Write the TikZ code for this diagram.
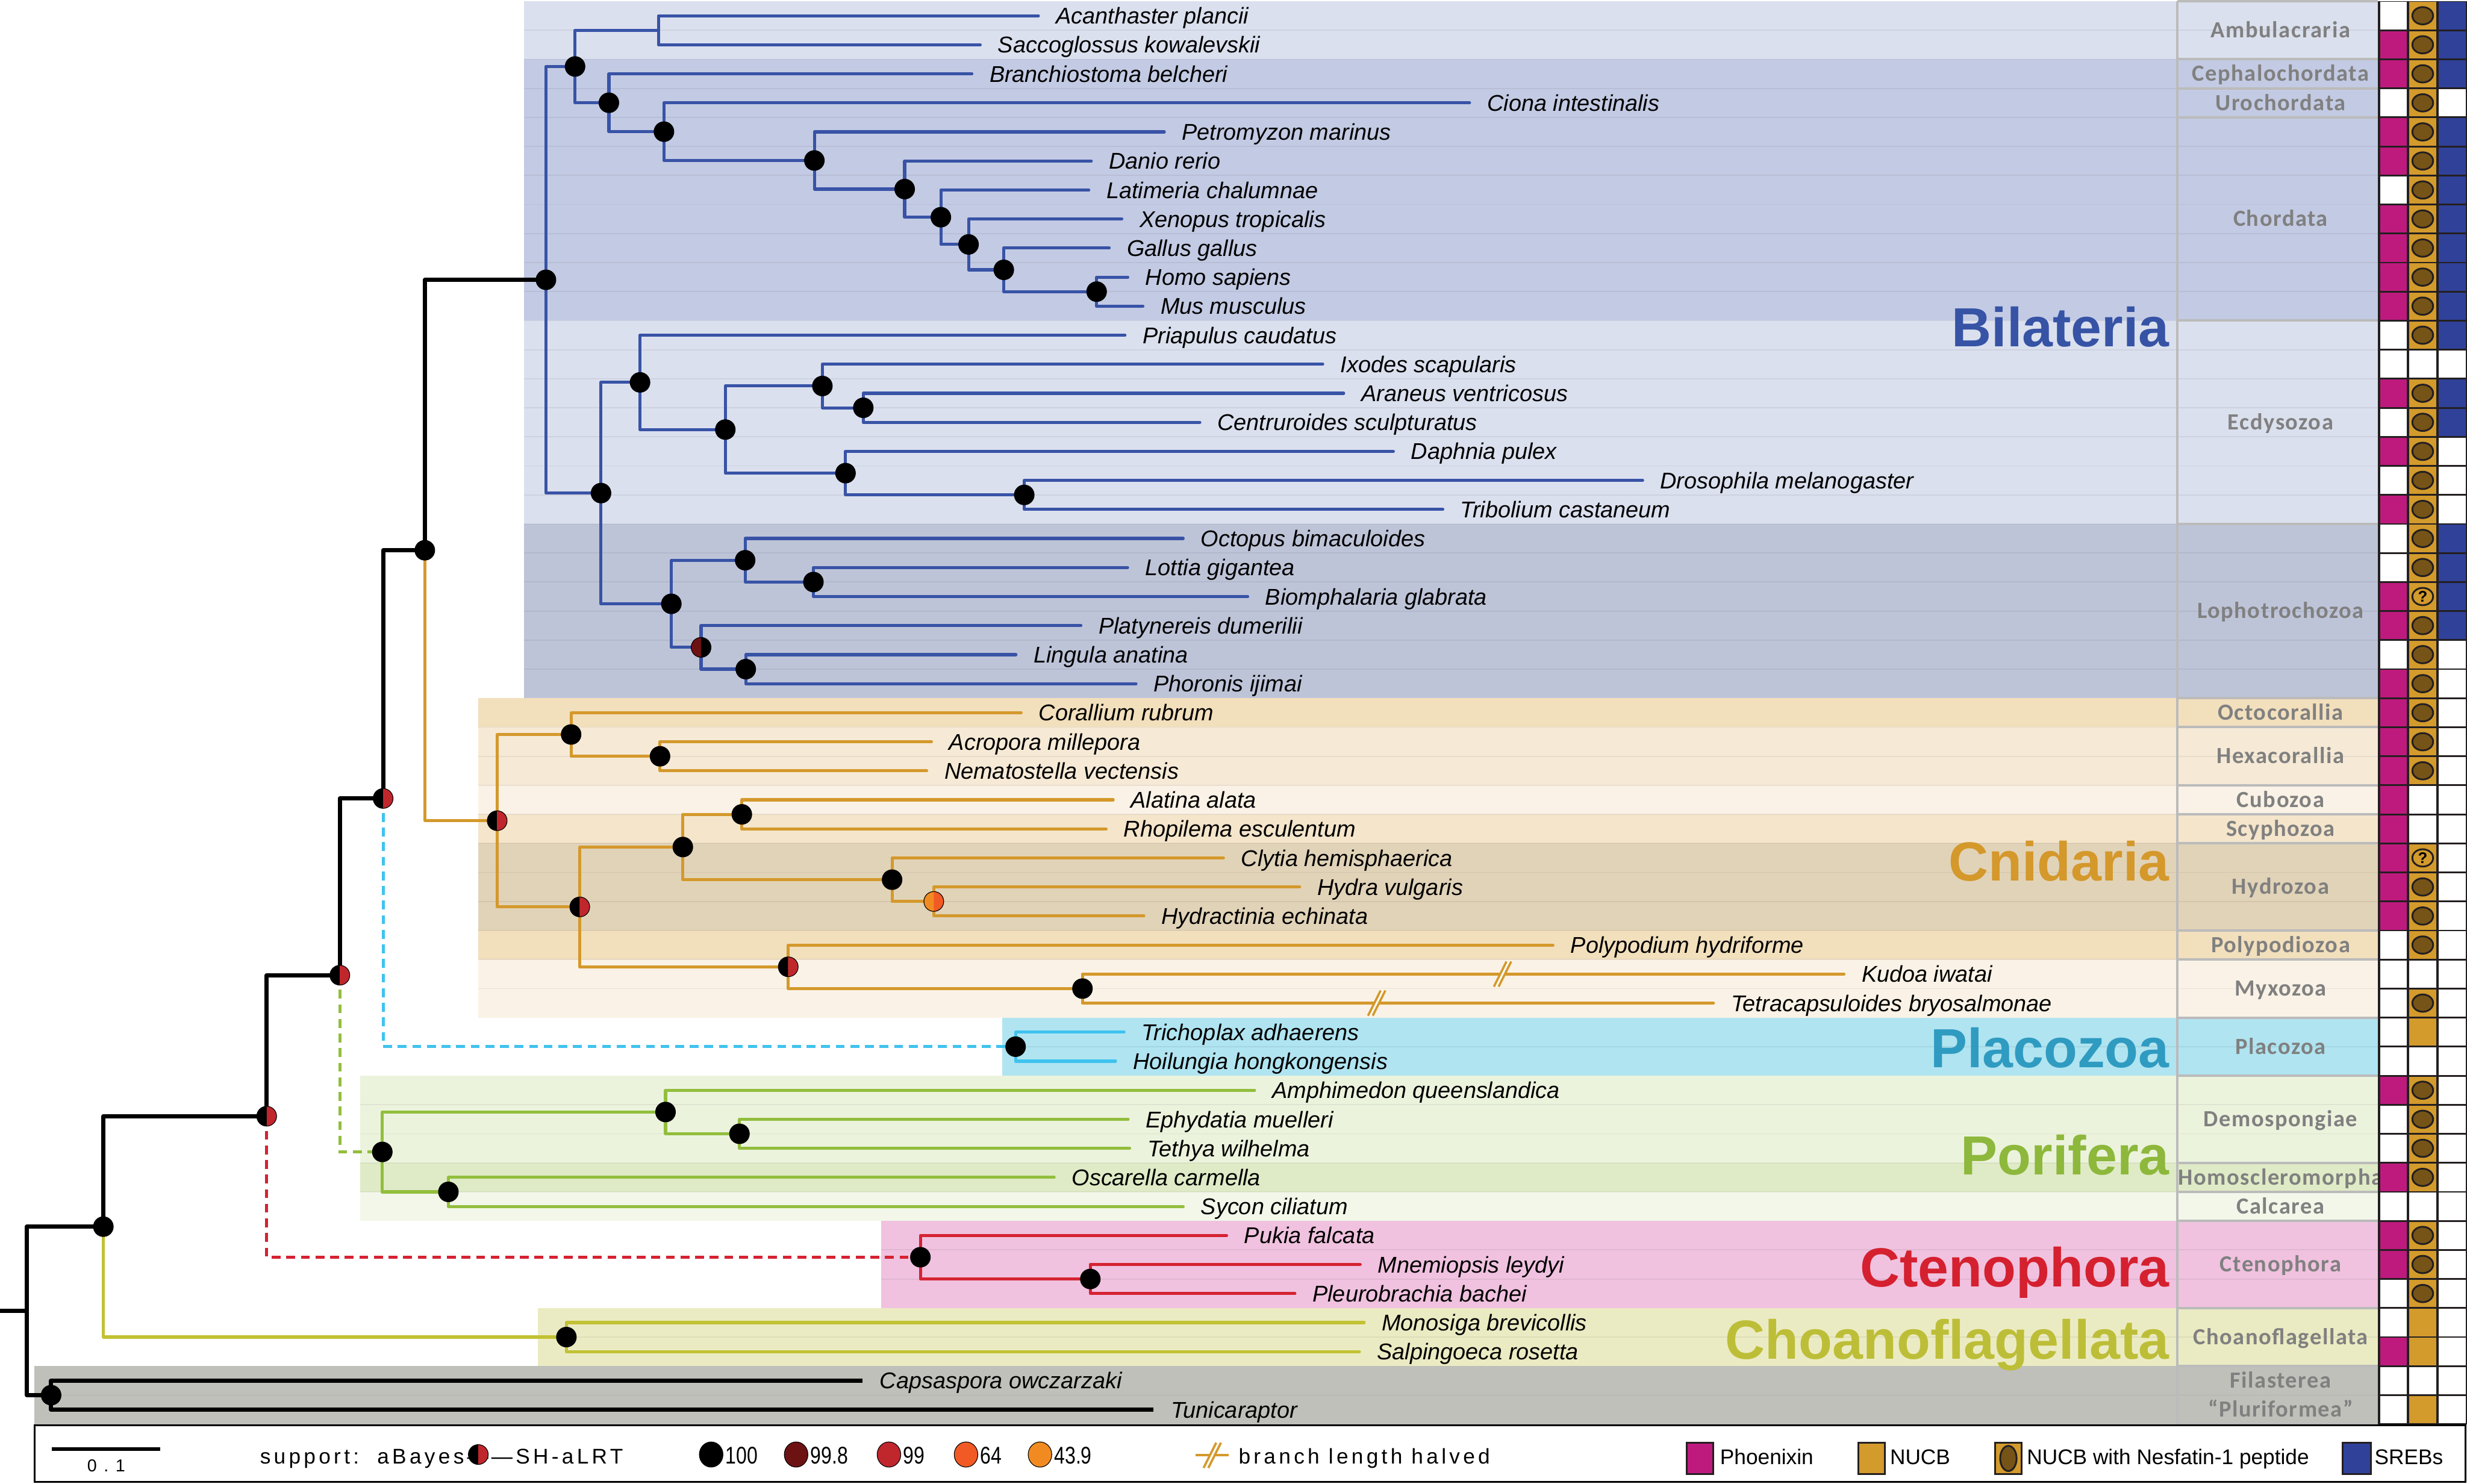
\documentclass[tikz,border=0pt]{standalone}
\usepackage{fontspec}
\usepackage{graphicx}
\setmainfont{Liberation Sans}
\newfontfamily\regionfont[LetterSpace=4]{Carlito}
\newfontfamily\legspfont[LetterSpace=15]{Liberation Sans}
\newfontfamily\legwidefont[LetterSpace=40]{Liberation Sans}
\usetikzlibrary{calc}

\definecolor{cBil}{HTML}{3853A6}
\definecolor{cCni}{HTML}{D4992C}
\definecolor{cPla}{HTML}{3FC3EF}
\definecolor{cPor}{HTML}{92BE3D}
\definecolor{cCte}{HTML}{D62232}
\definecolor{cCho}{HTML}{C2C234}
\definecolor{lBil}{HTML}{3653A5}
\definecolor{lCni}{HTML}{D4982B}
\definecolor{lPla}{HTML}{2F9BC1}
\definecolor{lPor}{HTML}{8DB83B}
\definecolor{lCte}{HTML}{D5202F}
\definecolor{lCho}{HTML}{BDBE37}
\definecolor{bAmb}{HTML}{DBE0EE}
\definecolor{bChd}{HTML}{C3CAE3}
\definecolor{bLop}{HTML}{BEC4D8}
\definecolor{bOct}{HTML}{F2DFBC}
\definecolor{bHex}{HTML}{F6EAD6}
\definecolor{bCub}{HTML}{FAF2E6}
\definecolor{bScy}{HTML}{F4E5CB}
\definecolor{bHyd}{HTML}{E1D3B8}
\definecolor{bPla}{HTML}{B0E4F1}
\definecolor{bDem}{HTML}{ECF3DD}
\definecolor{bHom}{HTML}{DFEBC6}
\definecolor{bCal}{HTML}{F3F7E9}
\definecolor{bCte}{HTML}{F0C2DF}
\definecolor{bChf}{HTML}{EBEBC3}
\definecolor{bFil}{HTML}{BFC0BA}
\definecolor{regtext}{HTML}{808080}
\definecolor{sepgray}{HTML}{BBBBBB}
\definecolor{tM}{HTML}{BE1A7E}
\definecolor{tG}{HTML}{D39A2C}
\definecolor{tB}{HTML}{30419A}
\definecolor{tE}{HTML}{765418}
\definecolor{tK}{HTML}{231F20}
\definecolor{sRed}{HTML}{C0272D}
\definecolor{sDark}{HTML}{6D1213}
\definecolor{sOr1}{HTML}{F18B21}
\definecolor{sOr2}{HTML}{F15A24}
\colorlet{cw}{white}

\newcommand\leaffont{\fontsize{10.3pt}{12pt}\selectfont\itshape}
\newcommand\regfont{\regionfont\bfseries\fontsize{10.46pt}{12pt}\selectfont}
\newcommand\cladefont{\bfseries\fontsize{24.9pt}{28pt}\selectfont}
\newcommand\legfont{\fontsize{9.6pt}{11pt}\selectfont}
\newcommand\numfont{\fontsize{10.9pt}{12pt}\selectfont}

\newcommand\Yr[1]{10+(#1-1)*18.4583}
\newcommand\inode[3]{\coordinate (#1) at (#2,{\Yr{#3}});}
\newcommand\leaf[3]{\coordinate (l#1) at (#2,{\Yr{#1}});
  \node[leaflab] (t#1) at ([shift={(11,5.2)}]l#1) {#3};}
\newcommand\band[4]{\fill[#1] (#2,{0.771+(#3-1)*18.4583}) rectangle (1511.5,{0.771+#4*18.4583});}
\newcommand\reglabel[3]{\node[reglab] (#1) at (1449.5,{\Yr{#2}+4.7}) {#3};}
\newcommand\bdot[1]{\filldraw[fill=black,draw=black,line width=0.3pt] (#1) circle[radius=0.1575cm];}
\newcommand\splitdot[3]{%
  \fill[#2] ([yshift=0.1575cm]#1) arc[start angle=90,end angle=270,radius=0.1575cm] -- cycle;
  \fill[#3] ([yshift=-0.1575cm]#1) arc[start angle=-90,end angle=90,radius=0.1575cm] -- cycle;
  \draw[black,line width=0.3pt] (#1) circle[radius=0.1575cm];}
\newcommand\brk[1]{%
  \fill[white] ([shift={(-5.5,8)}]#1) -- ([shift={(2.5,-8)}]#1) -- ([shift={(5.5,-8)}]#1) -- ([shift={(-2.5,8)}]#1) -- cycle;
  \draw[cCni,line width=1pt] ([shift={(-5.5,8)}]#1) -- ([shift={(2.5,-8)}]#1);
  \draw[cCni,line width=1pt] ([shift={(-2.5,8)}]#1) -- ([shift={(5.5,-8)}]#1);}

\tikzset{
  branch/.style={line width=1.4pt,line cap=round,line join=round},
  bb/.style={line width=1.9pt,line join=round,black},
  dashconn/.style={line width=1.35pt,dash pattern=on 4pt off 2.6pt},
  leaflab/.style={anchor=base west,inner sep=0pt,font=\leaffont},
  reglab/.style={anchor=base,inner sep=0pt,font=\regfont,text=regtext},
  cladelab/.style={anchor=base east,inner sep=0pt,font=\cladefont},
  legtxt/.style={anchor=base west,inner sep=0pt,font=\legfont},
  legsp/.style={anchor=base west,inner sep=0pt,font=\legspfont\legfont},
  sepline/.style={draw=sepgray,line width=1.1pt},
  rowline/.style={draw=black,draw opacity=0.06,line width=0.5pt},
  legbox/.style={draw=tK,line width=0.8pt}
}

\begin{document}
\begin{tikzpicture}[x=0.025cm,y=-0.025cm]
\useasboundingbox (0,0) rectangle (1568,943);
\fill[white] (0,0) rectangle (1568,943);

% ---------- background bands ----------
\band{bAmb}{333}{1}{2}
\band{bChd}{333}{3}{11}
\band{bAmb}{333}{12}{18}
\band{bLop}{333}{19}{24}
\band{bOct}{304}{25}{25}
\band{bHex}{304}{26}{27}
\band{bCub}{304}{28}{28}
\band{bScy}{304}{29}{29}
\band{bHyd}{304}{30}{32}
\band{bOct}{304}{33}{33}
\band{bCub}{304}{34}{35}
\band{bPla}{637}{36}{37}
\band{bDem}{229}{38}{40}
\band{bHom}{229}{41}{41}
\band{bCal}{229}{42}{42}
\band{bCte}{560}{43}{45}
\band{bChf}{342}{46}{47}
\band{bFil}{22}{48}{49}

% faint row lines inside the bands
\foreach \b/\xs in {1/333,2/333,3/333,4/333,5/333,6/333,7/333,8/333,9/333,10/333,11/333,12/333,
  13/333,14/333,15/333,16/333,17/333,18/333,19/333,20/333,21/333,22/333,23/333,
  25/304,26/304,27/304,28/304,29/304,30/304,31/304,32/304,33/304,34/304,
  36/637,38/229,39/229,40/229,41/229,43/560,44/560,46/342,48/22}
  {\draw[rowline] (\xs,{0.771+\b*18.4583}) -- (1511.5,{0.771+\b*18.4583});}

% ---------- region column separators ----------
\foreach \b in {0,2,3,4,11,18,24,25,27,28,29,32,33,35,37,40,41,42,45,47,49}
  {\draw[sepline] (1384,{0.771+\b*18.4583}) -- (1511.5,{0.771+\b*18.4583});}
\draw[sepline] (1384,0.771) -- (1384,{0.771+49*18.4583});

% ---------- region labels ----------
\reglabel{gAmb}{1.5}{Ambulacraria}
\reglabel{gCep}{3}{Cephalochordata}
\reglabel{gUro}{4}{Urochordata}
\reglabel{gChd}{8}{Chordata}
\reglabel{gEcd}{15}{Ecdysozoa}
\reglabel{gLop}{21.5}{Lophotrochozoa}
\reglabel{gOct}{25}{Octocorallia}
\reglabel{gHex}{26.5}{Hexacorallia}
\reglabel{gCub}{28}{Cubozoa}
\reglabel{gScy}{29}{Scyphozoa}
\reglabel{gHyd}{31}{Hydrozoa}
\reglabel{gPol}{33}{Polypodiozoa}
\reglabel{gMyx}{34.5}{Myxozoa}
\reglabel{gPla}{36.5}{Placozoa}
\reglabel{gDem}{39}{Demospongiae}
\reglabel{gHom}{41}{Homoscleromorpha}
\reglabel{gCal}{42}{Calcarea}
\reglabel{gCte}{44}{Ctenophora}
\reglabel{gChf}{46.5}{Choanoflagellata}
\reglabel{gFil}{48}{Filasterea}
\reglabel{gPlu}{49}{“Pluriformea”}

% ---------- presence table ----------
\fill[tK] (1511.5,0.771) rectangle (1568,{0.771+49*18.4583});
\foreach \r/\p/\n/\s in {1/cw/2/tB,2/tM/2/tB,3/tM/2/tB,4/cw/2/cw,5/tM/2/tB,6/tM/2/tB,7/cw/2/tB,
  8/tM/2/tB,9/tM/2/tB,10/tM/2/tB,11/tM/2/tB,12/cw/2/tB,13/cw/0/cw,14/tM/2/tB,15/cw/2/tB,
  16/tM/2/cw,17/cw/2/cw,18/tM/2/cw,19/cw/2/tB,20/cw/2/tB,21/tM/3/tB,22/tM/2/tB,23/cw/2/cw,
  24/tM/2/cw,25/tM/2/cw,26/tM/2/cw,27/tM/2/cw,28/tM/0/cw,29/tM/0/cw,30/tM/3/cw,31/tM/2/cw,
  32/tM/2/cw,33/cw/2/cw,34/cw/0/cw,35/cw/2/cw,36/cw/1/cw,37/cw/0/cw,38/tM/2/cw,39/cw/2/cw,
  40/cw/2/cw,41/tM/2/cw,42/cw/0/cw,43/tM/2/cw,44/tM/2/cw,45/cw/2/cw,46/cw/1/cw,47/tM/1/cw,
  48/cw/0/cw,49/cw/1/cw} {
  \pgfmathsetmacro\ta{0.771+(\r-1)*18.4583+0.55}
  \pgfmathsetmacro\tb{0.771+\r*18.4583-0.55}
  \pgfmathsetmacro\tc{10+(\r-1)*18.4583}
  \fill[\p] (1512.7,\ta) rectangle (1529.6,\tb);
  \fill[\s] (1550.1,\ta) rectangle (1567.2,\tb);
  \ifnum\n=0 \fill[white] (1531.2,\ta) rectangle (1548.5,\tb);\else\fill[tG] (1531.2,\ta) rectangle (1548.5,\tb);\fi
  \ifnum\n=2 \filldraw[fill=tE,draw=tK,line width=0.8pt] (1539.85,\tc) ellipse[x radius=0.165cm,y radius=0.1375cm];\fi
  \ifnum\n=3 \filldraw[fill=tG,draw=tK,line width=0.8pt] (1539.85,\tc) ellipse[x radius=0.165cm,y radius=0.1375cm];
    \node[font=\bfseries\fontsize{7pt}{7pt}\selectfont,inner sep=0pt] (q\r) at (1539.85,\tc) {?};\fi
}

% ---------- big clade labels ----------
\node[cladelab,text=lBil] (kBil) at (1379,220.2) {Bilateria};
\node[cladelab,text=lCni] (kCni) at (1379,559.7) {Cnidaria};
\node[cladelab,text=lPla] (kPla) at (1379,678.7) {Placozoa};
\node[cladelab,text=lPor] (kPor) at (1379,746.7) {Porifera};
\node[cladelab,text=lCte] (kCte) at (1379,817.7) {Ctenophora};
\node[cladelab,text=lCho] (kCho) at (1379,863.7) {Choanoflagellata};

% ---------- leaves ----------
\leaf{1}{660}{Acanthaster plancii}
\leaf{2}{623}{Saccoglossus kowalevskii}
\leaf{3}{617.7}{Branchiostoma belcheri}
\leaf{4}{934}{Ciona intestinalis}
\leaf{5}{740}{Petromyzon marinus}
\leaf{6}{693.6}{Danio rerio}
\leaf{7}{692}{Latimeria chalumnae}
\leaf{8}{713}{Xenopus tropicalis}
\leaf{9}{705}{Gallus gallus}
\leaf{10}{716.8}{Homo sapiens}
\leaf{11}{726.4}{Mus musculus}
\leaf{12}{715}{Priapulus caudatus}
\leaf{13}{840.7}{Ixodes scapularis}
\leaf{14}{854}{Araneus ventricosus}
\leaf{15}{762.6}{Centruroides sculpturatus}
\leaf{16}{885.6}{Daphnia pulex}
\leaf{17}{1044}{Drosophila melanogaster}
\leaf{18}{917}{Tribolium castaneum}
\leaf{19}{752}{Octopus bimaculoides}
\leaf{20}{716.7}{Lottia gigantea}
\leaf{21}{793}{Biomphalaria glabrata}
\leaf{22}{687}{Platynereis dumerilii}
\leaf{23}{645.7}{Lingula anatina}
\leaf{24}{722}{Phoronis ijimai}
\leaf{25}{649}{Corallium rubrum}
\leaf{26}{592}{Acropora millepora}
\leaf{27}{589}{Nematostella vectensis}
\leaf{28}{707.5}{Alatina alata}
\leaf{29}{703}{Rhopilema esculentum}
\leaf{30}{777.6}{Clytia hemisphaerica}
\leaf{31}{826}{Hydra vulgaris}
\leaf{32}{727}{Hydractinia echinata}
\leaf{33}{987}{Polypodium hydriforme}
\leaf{34}{1172}{Kudoa iwatai}
\leaf{35}{1089}{Tetracapsuloides bryosalmonae}
\leaf{36}{714.4}{Trichoplax adhaerens}
\leaf{37}{709}{Hoilungia hongkongensis}
\leaf{38}{797.4}{Amphimedon queenslandica}
\leaf{39}{717}{Ephydatia muelleri}
\leaf{40}{718}{Tethya wilhelma}
\leaf{41}{670}{Oscarella carmella}
\leaf{42}{752}{Sycon ciliatum}
\leaf{43}{779.6}{Pukia falcata}
\leaf{44}{864.5}{Mnemiopsis leydyi}
\leaf{45}{823}{Pleurobrachia bachei}
\leaf{46}{867}{Monosiga brevicollis}
\leaf{47}{864}{Salpingoeca rosetta}
\leaf{48}{548}{Capsaspora owczarzaki}
\leaf{49}{733}{Tunicaraptor}

% ---------- internal nodes ----------
\inode{nQ}{697}{10.5}
\inode{nP}{638}{9.75}
\inode{nO}{615.6}{8.875}
\inode{nN}{598}{7.9375}
\inode{nM}{575}{6.96875}
\inode{nLv}{517.6}{5.984375}
\inode{nK}{422}{4.9921875}
\inode{nJ}{387}{3.99609375}
\inode{nAmb}{418.5}{1.5}
\inode{nH}{365.5}{2.748046875}
\inode{nW}{548.7}{14.5}
\inode{nU}{522.7}{13.75}
\inode{nX}{651}{17.5}
\inode{nV}{537.4}{16.75}
\inode{nT}{461}{15.25}
\inode{nR}{406.8}{13.625}
\inode{nAA}{517}{20.5}
\inode{nY}{473.6}{19.75}
\inode{nAB}{474}{23.5}
\inode{nZ}{445.6}{22.75}
\inode{nS}{426.7}{21.25}
\inode{nI}{382}{17.4375}
\inode{nF}{347}{10.0927734}
\inode{nAE}{419.5}{26.5}
\inode{nAC}{363}{25.75}
\inode{nAH}{471.5}{28.5}
\inode{nAJ}{593.5}{31.5}
\inode{nAI}{567}{30.75}
\inode{nAF}{434}{29.625}
\inode{nAK}{688}{34.5}
\inode{nAG}{501}{33.75}
\inode{nAD}{368.5}{31.6875}
\inode{nG}{316}{28.71875}
\inode{nE}{270}{19.40576}
\inode{nPla}{645.5}{36.5}
\inode{nD}{243.5}{27.95288}
\inode{nAO}{470}{39.5}
\inode{nAM}{423}{38.75}
\inode{nAN}{285}{41.5}
\inode{nAL}{243}{40.125}
\inode{nC}{216}{34.03894}
\inode{nAQ}{693}{44.5}
\inode{nAP}{585}{43.75}
\inode{nB}{169.5}{38.89447}
\inode{nCho}{360}{46.5}
\inode{nA}{65.7}{42.69724}
\inode{nFil}{32.5}{48.5}
\inode{nRoot}{17}{45.59862}
\inode{nRoot0}{0}{45.59862}
\coordinate (k34) at (955,{\Yr{34}});
\coordinate (k35) at (875,{\Yr{35}});

% ---------- branches ----------
\foreach \a/\b in {nF/nH,nF/nI,nH/nAmb,nH/nJ,nAmb/l1,nAmb/l2,nJ/l3,nJ/nK,nK/l4,nK/nLv,nLv/l5,nLv/nM,
  nM/l6,nM/nN,nN/l7,nN/nO,nO/l8,nO/nP,nP/l9,nP/nQ,nQ/l10,nQ/l11,nI/nR,nI/nS,nR/l12,nR/nT,nT/nU,nT/nV,
  nU/l13,nU/nW,nW/l14,nW/l15,nV/l16,nV/nX,nX/l17,nX/l18,nS/nY,nS/nZ,nY/l19,nY/nAA,nAA/l20,nAA/l21,
  nZ/l22,nZ/nAB,nAB/l23,nAB/l24}
  {\draw[branch,cBil] (\a) |- (\b);}
\foreach \a/\b in {nE/nG,nG/nAC,nG/nAD,nAC/l25,nAC/nAE,nAE/l26,nAE/l27,nAD/nAF,nAD/nAG,nAF/nAH,nAF/nAI,
  nAH/l28,nAH/l29,nAI/l30,nAI/nAJ,nAJ/l31,nAJ/l32,nAG/l33,nAG/nAK,nAK/l34,nAK/l35}
  {\draw[branch,cCni] (\a) |- (\b);}
\foreach \a/\b in {nPla/l36,nPla/l37} {\draw[branch,cPla] (\a) |- (\b);}
\foreach \a/\b in {nAL/nAM,nAL/nAN,nAM/l38,nAM/nAO,nAO/l39,nAO/l40,nAN/l41,nAN/l42}
  {\draw[branch,cPor] (\a) |- (\b);}
\foreach \a/\b in {nAP/l43,nAP/nAQ,nAQ/l44,nAQ/l45} {\draw[branch,cCte] (\a) |- (\b);}
\foreach \a/\b in {nA/nCho,nCho/l46,nCho/l47} {\draw[branch,cCho] (\a) |- (\b);}
\draw[dashconn,cCte] (nB) |- (nAP);
\draw[dashconn,cPor] (nC) |- (nAL);
\draw[dashconn,cPla] (nD) |- (nPla);
\foreach \a/\b in {nRoot/nA,nRoot/nFil,nFil/l48,nFil/l49,nA/nB,nB/nC,nC/nD,nD/nE,nE/nF}
  {\draw[bb] (\a) |- (\b);}
\draw[bb] (nRoot0) -- (nRoot);
\brk{k34}
\brk{k35}

% ---------- support dots ----------
\foreach \n in {nFil,nA,nE,nF,nH,nJ,nK,nLv,nM,nN,nO,nP,nQ,nI,nR,nT,nU,nW,nV,nX,nS,nY,nAA,nAB,
  nAC,nAE,nAF,nAH,nAI,nAK,nPla,nAL,nAM,nAO,nAN,nAP,nAQ,nCho}
  {\bdot{\n}}
\splitdot{nB}{black}{sRed}
\splitdot{nC}{black}{sRed}
\splitdot{nD}{black}{sRed}
\splitdot{nG}{black}{sRed}
\splitdot{nAD}{black}{sRed}
\splitdot{nAG}{black}{sRed}
\splitdot{nZ}{sDark}{black}
\splitdot{nAJ}{sOr1}{sOr2}

% ---------- legend ----------
\draw[line width=0.9pt,fill=white] (22,906) rectangle (1567,942);
\coordinate (sb1) at (33,921);
\coordinate (sb2) at (102,921);
\draw[line width=1.6pt] (sb1) -- (sb2);
\node[anchor=base,inner sep=0pt,font=\legwidefont\fontsize{7.8pt}{9pt}\selectfont] (sbl) at (67.5,935.5) {0.1};
\node[legsp] (sup) at (165,930.5) {support:\ \ aBayes—};
\coordinate (lsd) at (304,924.5);
\splitdot{lsd}{black}{sRed}
\node[legsp] (sh) at (312,930.5) {—SH-aLRT};
\foreach \x/\c/\t/\k in {452/black/100/1,506/sDark/99.8/2,565/sRed/99/3,614/sOr2/64/4,661/sOr1/43.9/5} {
  \filldraw[fill=\c,draw=black,line width=0.3pt] (\x,924.5) ellipse[x radius=0.1875cm,y radius=0.2cm];
  \node[anchor=base west,inner sep=0pt,font=\numfont] (v\k) at (\x+8.8,930.5) {\scalebox{0.8}[1]{\t}};
}
\coordinate (bk1) at (760,925);
\coordinate (bk2) at (781,925);
\draw[cCni,line width=1.1pt] (bk1) -- (bk2);
\coordinate (bkm) at (770.5,925);
\brk{bkm}
\node[legsp] (blh) at (787,930.5) {branch length halved};
\filldraw[fill=tM,legbox] (1072,917) rectangle (1089,937);
\node[legtxt] (lp) at (1093,930.8) {Phoenixin};
\filldraw[fill=tG,legbox] (1181,917) rectangle (1198,937);
\node[legtxt] (ln) at (1201,930.8) {NUCB};
\filldraw[fill=tG,legbox] (1268,917) rectangle (1285,937);
\filldraw[fill=tE,draw=tK,line width=0.8pt] (1276.5,927) ellipse[x radius=0.13cm,y radius=0.2cm];
\node[legtxt] (lnn) at (1288,930.8) {NUCB with Nesfatin-1 peptide};
\filldraw[fill=tB,legbox] (1489,917) rectangle (1507,937);
\node[legtxt] (ls) at (1509,930.8) {SREBs};
\end{tikzpicture}
\end{document}
